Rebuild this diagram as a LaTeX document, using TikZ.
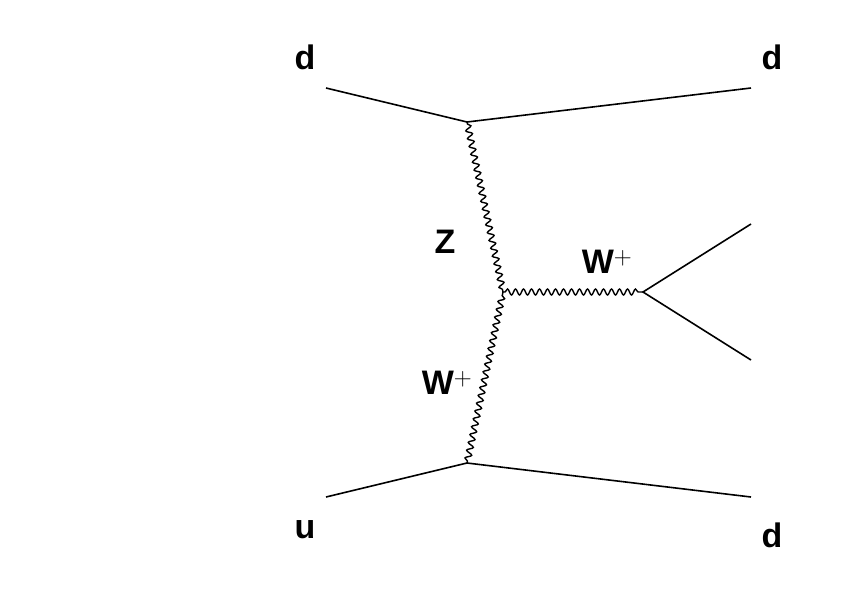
\documentclass[tikz,border=0pt]{standalone}
\usepackage{fontspec}
\setmainfont{Liberation Sans}
\usetikzlibrary{decorations.pathmorphing}
\begin{document}
\begin{tikzpicture}[x=1pt,y=1pt,yscale=-1,
  fermion/.style={line width=1.6pt},
  boson/.style={line width=1.4pt,decorate,decoration={snake,amplitude=3pt,segment length=8pt,pre length=2pt,post length=2pt}},
  lbl/.style={font=\bfseries\fontsize{34}{36}\selectfont,inner sep=0pt}]
\useasboundingbox (0,0) rectangle (842,595);

%Vertices
\coordinate (vtop) at (467,122);
\coordinate (vbot) at (467,463);
\coordinate (vmid) at (503,292);
\coordinate (vdec) at (643,292);
\coordinate (inA) at (326,88);
\coordinate (outA) at (751,88);
\coordinate (inB) at (326,497);
\coordinate (outB) at (751,497);
\coordinate (outC) at (751,224);
\coordinate (outD) at (751,360);

%Fermion lines
\draw[fermion] (inA) -- (vtop) -- (outA);
\draw[fermion] (inB) -- (vbot) -- (outB);
\draw[fermion] (outC) -- (vdec) -- (outD);

%Boson lines
\draw[boson] (vtop) -- (vmid);
\draw[boson] (vbot) -- (vmid);
\draw[boson] (vmid) -- (vdec);

% Text Node
\node[lbl] (dA) at (305,57) {d};
\node[lbl] (dB) at (772,57) {d};
\node[lbl] (uC) at (305,530) {u};
\node[lbl] (dD) at (772,535) {d};
\node[lbl] (zz) at (445,242) {Z};
\node[lbl] (wA) at (607,262) {W$^{\mathbf{+}}$};
\node[lbl] (wB) at (447,383) {W$^{\mathbf{+}}$};
\end{tikzpicture}
\end{document}
